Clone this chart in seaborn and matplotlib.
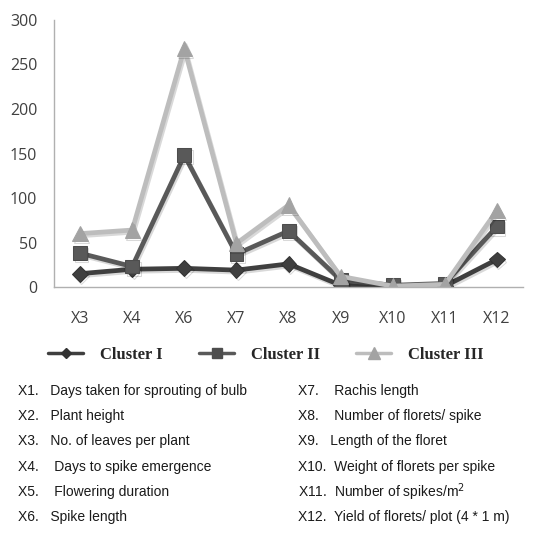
import matplotlib
matplotlib.use('Agg')

import pandas as pd
import matplotlib.pyplot as plt
import matplotlib.patheffects as pe
from matplotlib.lines import Line2D
import seaborn as sns

# chart values
traits = ["X3", "X4", "X6", "X7", "X8", "X9", "X10", "X11", "X12"]
cluster_1 = [15, 20, 21, 19, 26, 2, 1, 1, 31]
cluster_2 = [38, 23, 148, 37, 63, 8, 2, 4, 68]
cluster_3 = [60, 64, 268, 49, 92, 12, 1, 3, 86]
cluster_names = ["Cluster I", "Cluster II", "Cluster III"]

key_left = ["X1.   Days taken for sprouting of bulb", "X2.   Plant height",
            "X3.   No. of leaves per plant", "X4.    Days to spike emergence",
            "X5.    Flowering duration", "X6.   Spike length"]
key_right = ["X7.    Rachis length", "X8.    Number of florets/ spike",
             "X9.   Length of the floret", "X10.  Weight of florets per spike",
             "X11.  Number of spikes/m$^2$", "X12.  Yield of florets/ plot (4 * 1 m)"]

df = pd.DataFrame({
    "trait": traits * 3,
    "value": cluster_1 + cluster_2 + cluster_3,
    "cluster": [c for c in cluster_names for _ in traits],
})

sns.set_style("white")
plt.rcParams['font.family'] = ['Liberation Sans', 'DejaVu Sans']

colors = {"Cluster I": "#3f3f3f", "Cluster II": "#595959", "Cluster III": "#bdbdbd"}
edges = {"Cluster I": "#333333", "Cluster II": "#4d4d4d", "Cluster III": "#a3a3a3"}
markers = {"Cluster I": "D", "Cluster II": "s", "Cluster III": "^"}
msize = {"Cluster I": 8, "Cluster II": 10, "Cluster III": 11}

fig = plt.figure(figsize=(5.46, 5.33), dpi=100)
ax = fig.add_axes([0.099, 0.4615, 0.859, 0.501])

for name in cluster_names:
    sub = df[df["cluster"] == name]
    sns.lineplot(data=sub, x="trait", y="value", ax=ax, color=colors[name],
                 marker=markers[name], markersize=msize[name], linewidth=3.4,
                 markeredgecolor=edges[name], markerfacecolor=edges[name] if name == "Cluster III" else colors[name],
                 sort=False,
                 path_effects=[pe.SimpleLineShadow(offset=(1, -1.5), alpha=0.15), pe.Normal()])

ax.set_xlim(-0.5, 8.5)
ax.set_ylim(0, 300)
ax.set_yticks(range(0, 301, 50))
ax.set_xlabel("")
ax.set_ylabel("")
for s in ["top", "right"]:
    ax.spines[s].set_visible(False)
for s in ["left", "bottom"]:
    ax.spines[s].set_color("#b0b0b0")
    ax.spines[s].set_linewidth(1)
ax.tick_params(axis="both", length=0, labelsize=11.5, labelcolor="#404040")
ax.tick_params(axis="x", pad=17)
ax.tick_params(axis="y", pad=12)
for lab in ax.get_xticklabels() + ax.get_yticklabels():
    lab.set_family("Open Sans")

handles = [Line2D([0], [0], color=colors[n], marker=markers[n], markersize=msize[n] - 3,
                  markerfacecolor=edges[n], markeredgecolor=edges[n],
                  linewidth=2.5) for n in cluster_names]
fig.legend(handles, cluster_names, loc="center", bbox_to_anchor=(0.487, 0.334), ncol=3,
           frameon=False, handlelength=2.1, handletextpad=1.0, columnspacing=2.2,
           prop={"family": "Liberation Serif", "weight": "bold", "size": 12})

y0 = 1 - 391 / 533
step = 25.2 / 533
for i, t in enumerate(key_left):
    fig.text(18 / 546, y0 - i * step, t, fontsize=10, color="#1a1a1a", va="center")
for i, t in enumerate(key_right):
    fig.text(298 / 546, y0 - i * step, t, fontsize=10, color="#1a1a1a", va="center")

fig.savefig("out.png", dpi=100)
